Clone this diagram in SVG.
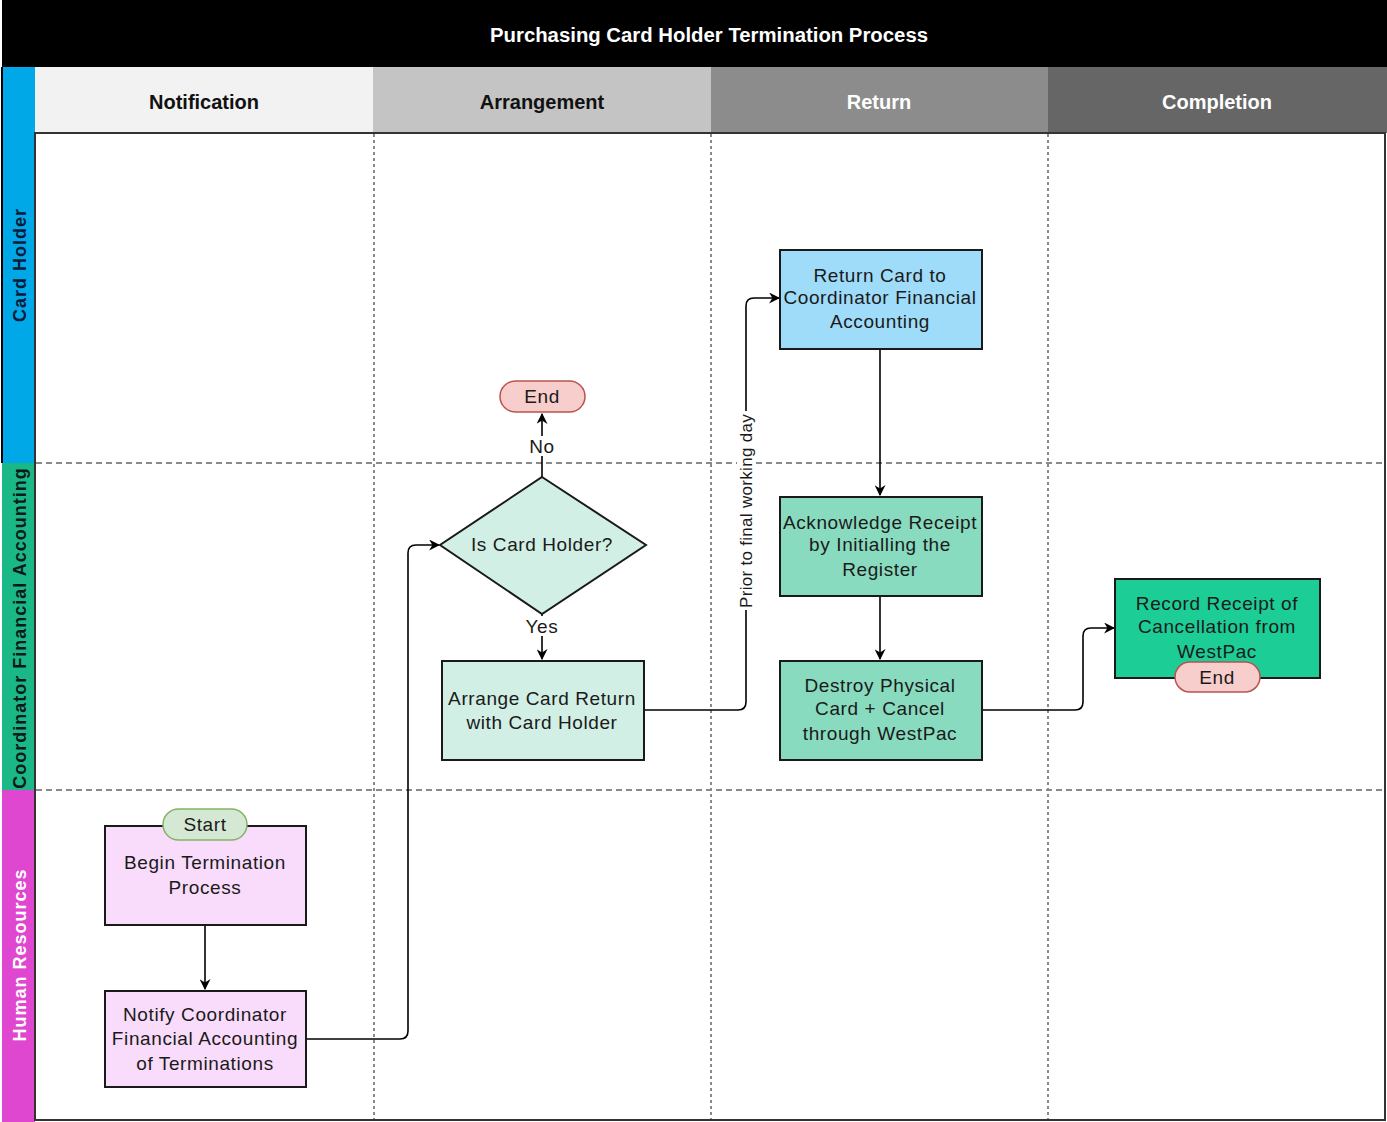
<svg xmlns="http://www.w3.org/2000/svg" width="1387" height="1122" viewBox="0 0 1387 1122">
  <defs>
    <marker id="arrow" viewBox="0 0 10 10" refX="9" refY="5" markerWidth="11" markerHeight="11" markerUnits="userSpaceOnUse" orient="auto">
      <path d="M0,0 L10,5 L0,10 L3,5 Z" fill="#000"/>
    </marker>
    <style>
      .t { font-family: "Liberation Sans", Arial, sans-serif; font-size: 19px; letter-spacing: 0.6px; fill: #1a1a1a; text-anchor: middle; dominant-baseline: central; }
      .hdr { font-family: "Liberation Sans", Arial, sans-serif; font-size: 20px; font-weight: bold; text-anchor: middle; dominant-baseline: central; }
      .lane { font-family: "Liberation Sans", Arial, sans-serif; font-size: 18px; letter-spacing: 1px; font-weight: bold; text-anchor: middle; dominant-baseline: central; }
      .box { stroke: #1a1a1a; stroke-width: 2; }
      .edge { fill: none; stroke: #000; stroke-width: 1.6; }
      .term-end { fill: #f8cecc; stroke: #b85450; stroke-width: 1.5; }
      .term-start { fill: #d5e8d4; stroke: #82b366; stroke-width: 1.5; }
      .grid-h { stroke: #8a8a8a; stroke-width: 2; stroke-dasharray: 6 4; }
      .grid-v { stroke: #8a8a8a; stroke-width: 2; stroke-dasharray: 3 3; }
    </style>
  </defs>

  <!-- background -->
  <rect x="0" y="0" width="1387" height="1122" fill="#fff"/>

  <!-- title bar -->
  <g id="title">
    <rect x="2" y="0" width="1385" height="67" fill="#000"/>
    <text class="hdr" x="709" y="35" fill="#fff" textLength="438" lengthAdjust="spacingAndGlyphs">Purchasing Card Holder Termination Process</text>
  </g>

  <!-- phase headers -->
  <g id="phases">
    <rect x="35" y="67" width="338" height="66" fill="#f2f2f2"/>
    <rect x="373" y="67" width="338" height="66" fill="#c4c4c4"/>
    <rect x="711" y="67" width="337" height="66" fill="#8c8c8c"/>
    <rect x="1048" y="67" width="339" height="66" fill="#666666"/>
    <text class="hdr" x="204" y="102" fill="#111">Notification</text>
    <text class="hdr" x="542" y="102" fill="#111">Arrangement</text>
    <text class="hdr" x="879" y="102" fill="#fff">Return</text>
    <text class="hdr" x="1217" y="102" fill="#fff">Completion</text>
  </g>

  <!-- swimlane labels -->
  <g id="lanes">
    <rect x="2" y="67" width="33" height="396" fill="#00a8e8"/>
    <rect x="2" y="463" width="33" height="327" fill="#1ab886"/>
    <rect x="2" y="790" width="33" height="332" fill="#df47d0"/>
    <line x1="2" y1="67" x2="2" y2="463" stroke="#000" stroke-width="2"/>
    <text class="lane" transform="translate(20,265) rotate(-90)" fill="#0a1a3a">Card Holder</text>
    <text class="lane" transform="translate(20,628) rotate(-90)" fill="#0a1a1a">Coordinator Financial Accounting</text>
    <text class="lane" transform="translate(20,955) rotate(-90)" fill="#fff">Human Resources</text>
  </g>

  <!-- pool body and grid -->
  <g id="grid">
    <rect x="35" y="133" width="1350" height="987" fill="#fff" stroke="#333" stroke-width="2"/>
    <line class="grid-h" x1="36" y1="463" x2="1384" y2="463"/>
    <line class="grid-h" x1="36" y1="790" x2="1384" y2="790"/>
    <line class="grid-v" x1="374" y1="134" x2="374" y2="1119"/>
    <line class="grid-v" x1="711" y1="134" x2="711" y2="1119"/>
    <line class="grid-v" x1="1048" y1="134" x2="1048" y2="1119"/>
  </g>

  <!-- connectors -->
  <g id="connectors">
    <path class="edge" d="M205,925 V989" marker-end="url(#arrow)"/>
    <path class="edge" d="M306,1039 H400 Q408,1039 408,1031 V553 Q408,545 416,545 H439" marker-end="url(#arrow)"/>
    <path class="edge" d="M542,477 V414" marker-end="url(#arrow)"/>
    <path class="edge" d="M542,614 V659" marker-end="url(#arrow)"/>
    <path class="edge" d="M644,710 H738 Q746,710 746,702 V306 Q746,298 754,298 H779" marker-end="url(#arrow)"/>
    <path class="edge" d="M880,349 V495" marker-end="url(#arrow)"/>
    <path class="edge" d="M880,596 V659" marker-end="url(#arrow)"/>
    <path class="edge" d="M982,710 H1075 Q1083,710 1083,702 V636 Q1083,628 1091,628 H1114" marker-end="url(#arrow)"/>
    <!-- edge labels -->
    <rect x="529" y="436" width="26" height="20" fill="#fff"/>
    <text class="t" x="542" y="446">No</text>
    <rect x="524" y="616" width="36" height="20" fill="#fff"/>
    <text class="t" x="542" y="626">Yes</text>
    <rect x="737" y="411" width="18" height="199" fill="#fff"/>
    <text class="t" transform="translate(746,511) rotate(-90)" style="font-size:17px;letter-spacing:0.3px">Prior to final working day</text>
  </g>

  <!-- nodes -->
  <g id="begin-termination">
    <rect class="box" x="105" y="826" width="201" height="99" fill="#f9dcfb"/>
    <text class="t" x="205" y="862">Begin Termination</text>
    <text class="t" x="205" y="887">Process</text>
  </g>
  <g id="start">
    <rect class="term-start" x="163" y="809" width="84" height="31" rx="15.5"/>
    <text class="t" x="205" y="824">Start</text>
  </g>
  <g id="notify-coordinator">
    <rect class="box" x="105" y="991" width="201" height="96" fill="#f9dcfb"/>
    <text class="t" x="205" y="1014">Notify Coordinator</text>
    <text class="t" x="205" y="1038">Financial Accounting</text>
    <text class="t" x="205" y="1063">of Terminations</text>
  </g>
  <g id="is-card-holder">
    <polygon class="box" points="542,477 646,545 542,614 440,545" fill="#d1efe4" stroke-width="1.6"/>
    <text class="t" x="542" y="544">Is Card Holder?</text>
  </g>
  <g id="end-no">
    <rect class="term-end" x="500" y="381" width="85" height="31" rx="15.5"/>
    <text class="t" x="542" y="396">End</text>
  </g>
  <g id="arrange-return">
    <rect class="box" x="442" y="661" width="202" height="99" fill="#d1efe4"/>
    <text class="t" x="542" y="698">Arrange Card Return</text>
    <text class="t" x="542" y="722">with Card Holder</text>
  </g>
  <g id="return-card">
    <rect class="box" x="780" y="250" width="202" height="99" fill="#9edcfa"/>
    <text class="t" x="880" y="275">Return Card to</text>
    <text class="t" x="880" y="297">Coordinator Financial</text>
    <text class="t" x="880" y="321">Accounting</text>
  </g>
  <g id="acknowledge-receipt">
    <rect class="box" x="780" y="497" width="202" height="99" fill="#88dbbf"/>
    <text class="t" x="880" y="522">Acknowledge Receipt</text>
    <text class="t" x="880" y="544">by Initialling the</text>
    <text class="t" x="880" y="569">Register</text>
  </g>
  <g id="destroy-card">
    <rect class="box" x="780" y="661" width="202" height="99" fill="#88dbbf"/>
    <text class="t" x="880" y="685">Destroy Physical</text>
    <text class="t" x="880" y="708">Card + Cancel</text>
    <text class="t" x="880" y="733">through WestPac</text>
  </g>
  <g id="record-receipt">
    <rect class="box" x="1115" y="579" width="205" height="99" fill="#1ccd96"/>
    <text class="t" x="1217" y="603">Record Receipt of</text>
    <text class="t" x="1217" y="626">Cancellation from</text>
    <text class="t" x="1217" y="651">WestPac</text>
  </g>
  <g id="end-complete">
    <rect class="term-end" x="1175" y="662" width="85" height="30" rx="15"/>
    <text class="t" x="1217" y="677">End</text>
  </g>
</svg>
